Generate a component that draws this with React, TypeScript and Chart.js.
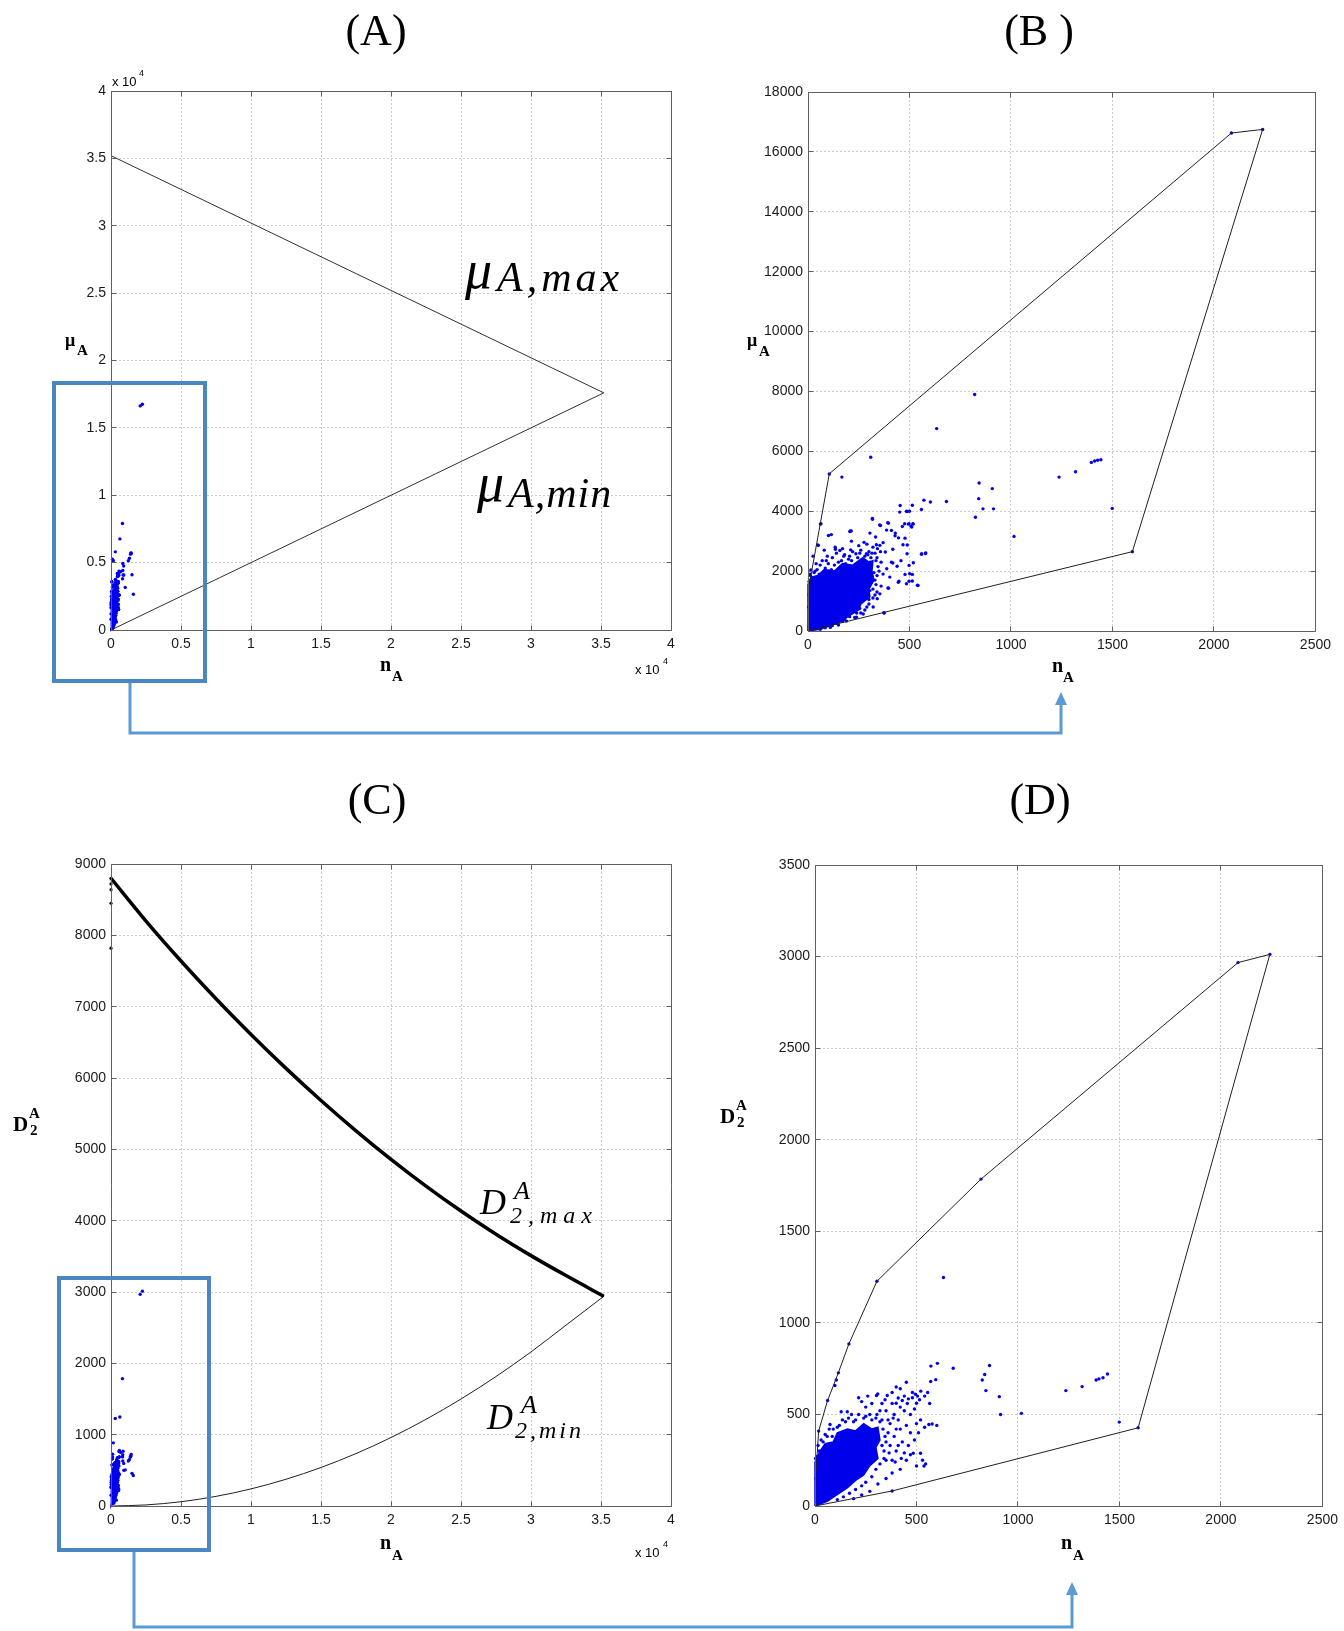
import React, { useEffect, useRef } from 'react';
import { Chart, registerables } from 'chart.js';

Chart.register(...registerables);

type Pt = [number, number];

// ---------- Panel A: bound lines (n_A, mu_A) ----------
const muMaxN = [0, 35200];
const muMaxV = [35200, 17600];
const muMinN = [0, 35200];
const muMinV = [0, 17600];

// ---------- Panel C: bound curves (n_A, D2^A) ----------
const d2CurveN = [0, 2500, 5000, 7500, 10000, 12500, 15000, 17500, 20000, 22500, 25000, 27500, 30000, 32500, 35200];
const d2MaxV = [8800, 8200, 7640, 7110, 6610, 6135, 5685, 5260, 4860, 4485, 4135, 3810, 3510, 3230, 2940];
const d2MinV = [0, 15, 60, 135, 240, 375, 540, 735, 960, 1215, 1500, 1815, 2160, 2535, 2940];
const d2AxisDotsN = [0, 0, 0, 0, 0];
const d2AxisDotsV = [8800, 8720, 8640, 8450, 7820];

// ---------- convex hulls ----------
const muHull: Pt[] = [[0, 0], [10, 1690], [105, 5250], [2086, 16630], [2240, 16750], [1598, 2650], [0, 0]];
const d2Hull: Pt[] = [[0, 0], [4, 170], [18, 409], [62, 576], [115, 727], [167, 885], [305, 1227], [818, 1785], [2084, 2967], [2241, 3012], [1592, 427], [380, 82], [0, 0]];

// ---------- dense cores of the point clouds ----------
const muCore: Pt[] = [[0, 0], [0, 1550], [15, 1800], [50, 1850], [80, 2050], [130, 2000], [170, 2250], [220, 2200], [270, 2450], [300, 2300], [320, 2350], [315, 2000], [325, 1700], [300, 1400], [305, 1150], [260, 900], [250, 700], [200, 500], [170, 330], [110, 180], [60, 60], [0, 0]];
const d2Core: Pt[] = [[0, 0], [0, 240], [25, 300], [50, 340], [90, 350], [110, 400], [160, 420], [200, 410], [240, 450], [280, 420], [310, 430], [320, 360], [300, 320], [310, 260], [270, 220], [240, 170], [200, 140], [160, 100], [120, 70], [60, 25], [0, 0]];

// ---------- individual points (n_A, mu_A) ----------
const muPoints: Pt[] = [
  [821, 7900], [634, 6760], [309, 5800], [167, 5140], [105, 5245], [1237, 5140], [1318, 5320], [1396, 5630], [1412, 5675], [1427, 5700], [1443, 5720],
  [843, 4940], [908, 4755], [841, 4420], [862, 4080], [914, 4080], [825, 3800], [1499, 4095], [1015, 3160], [1598, 2650], [2086, 16630], [2240, 16750],
  [682, 4325], [603, 4310], [571, 4370], [514, 4200], [454, 4190], [500, 4000], [488, 3990], [559, 4060], [317, 3760], [393, 3620], [61, 3570],
  [101, 3190], [115, 3220], [48, 2870], [579, 2590], [559, 2560], [539, 1530], [498, 1660], [514, 1890], [373, 610], [208, 3340], [305, 3270],
  [353, 3540], [387, 3370], [430, 3270], [446, 3110], [494, 3570], [508, 3500], [518, 3570], [458, 2350], [418, 2270], [397, 1430], [448, 1660],
  [478, 1890], [498, 2190], [357, 2650], [418, 2730], [337, 2880], [276, 2960], [236, 2580], [176, 2500], [135, 2730], [75, 1960], [14, 2040],
  [51, 2860], [64, 3580], [206, 3320], [214, 3000], [134, 2800], [157, 2690], [318, 3730], [357, 3525], [396, 3600], [411, 3360], [429, 3180],
  [452, 3970], [465, 3490], [476, 3580], [485, 4000], [498, 3580], [511, 3470], [517, 3580], [478, 3100], [468, 2880], [489, 2870], [488, 2580],
  [519, 2280], [501, 1910], [485, 1580], [514, 1670], [542, 1520], [560, 2580], [580, 2610], [439, 2160], [411, 2300], [388, 2080], [403, 1800],
  [394, 1440], [445, 1630], [381, 2640], [370, 2950], [354, 2860], [333, 3140], [342, 2750], [288, 2580], [247, 2250], [210, 2710], [213, 3340],
  [376, 600], [354, 1240], [341, 1080], [321, 800], [305, 1350], [272, 570], [239, 460], [20, 1700], [35, 2000], [60, 2200], [90, 2350],
  [120, 2450], [150, 2300], [180, 2550], [200, 2400], [260, 2700], [280, 2500], [300, 2650], [320, 2800], [340, 2450], [360, 2300], [350, 2000],
  [330, 1700], [370, 1900], [360, 1500], [340, 1300], [320, 1100], [300, 900], [280, 700], [260, 600], [230, 450], [190, 330], [150, 200],
  [110, 120], [250, 2050], [270, 2200], [230, 1900], [310, 2450], [330, 2600], [290, 2900], [250, 2850], [220, 2650], [170, 2750], [140, 2600],
  [95, 2500], [70, 2350], [40, 2250], [25, 2500], [80, 2700], [10, 1900], [5, 1200], [3, 800],
  [5, 1650], [12, 1850], [30, 1950], [45, 2050], [55, 1900], [85, 2100], [100, 2250], [115, 2050], [130, 2200], [165, 2350], [185, 2250],
  [205, 2500], [215, 2350], [245, 2450], [255, 2600], [265, 2350], [295, 2550], [305, 2300], [315, 2600], [335, 2350], [345, 2150], [325, 1950],
  [340, 1850], [335, 1550], [320, 1400], [330, 1200], [300, 1050], [290, 800], [255, 750], [240, 600], [205, 480], [180, 380], [140, 260],
  [120, 180], [85, 110], [60, 60], [200, 550], [170, 320],
];

// ---------- individual points (n_A, D2^A) ----------
const d2Points: Pt[] = [
  [633, 1248], [818, 1785], [305, 1227], [167, 885], [115, 727], [105, 688], [98, 658], [62, 576], [18, 409], [681, 752], [860, 767], [836, 718],
  [824, 688], [842, 630], [908, 597], [914, 500], [1017, 506], [1236, 630], [1316, 652], [1385, 688], [1399, 694], [1419, 700], [1441, 721],
  [1499, 458], [1592, 427], [2084, 2967], [2241, 3012], [603, 779], [571, 764], [450, 676], [521, 627], [500, 561], [480, 591], [460, 585],
  [430, 576], [400, 561], [356, 603], [303, 603], [309, 612], [215, 591], [159, 515], [577, 448], [561, 445], [537, 218], [500, 218], [484, 288],
  [520, 288], [74, 445], [129, 515], [380, 82], [330, 470], [350, 520], [370, 450], [390, 500], [410, 470], [420, 540], [440, 520], [455, 560],
  [470, 500], [490, 530], [505, 600], [515, 580], [480, 620], [495, 610], [440, 600], [410, 590], [380, 560], [360, 400], [390, 380], [420, 420],
  [450, 440], [470, 400], [500, 450], [520, 470], [540, 430], [340, 300], [370, 330], [400, 300], [430, 350], [460, 330], [490, 360], [510, 400],
  [530, 250], [450, 250], [420, 200], [380, 180], [350, 150], [310, 120], [270, 80], [230, 60], [190, 40], [300, 480], [270, 500], [240, 480],
  [200, 470], [180, 500], [150, 460], [120, 440], [90, 420], [60, 380], [40, 350], [20, 300], [10, 270], [5, 150], [250, 540], [280, 560],
  [230, 570], [330, 560], [345, 580], [320, 520], [260, 600], [380, 620], [420, 640], [400, 650], [540, 600], [555, 620], [570, 680], [595, 690],
  [565, 560], [600, 440], [545, 230], [470, 280], [440, 290], [350, 250], [395, 240],
  [3, 260], [15, 330], [30, 360], [50, 390], [70, 420], [85, 380], [110, 430], [135, 470], [165, 480], [190, 460], [215, 500], [250, 490],
  [280, 470], [305, 500], [320, 460], [335, 420], [345, 380], [330, 330], [340, 260], [320, 230], [300, 200], [280, 160], [250, 130], [230, 110],
  [200, 90], [170, 70], [140, 50], [110, 35], [350, 350], [365, 290], [380, 250], [410, 330], [425, 260], [400, 420], [385, 480], [360, 470],
];

// ---------- tick steps / ranges ----------
const bigNMax = 40000;
const bigNStep = 5000;
const bigMuMax = 40000;
const bigMuStep = 5000;
const zoomNMax = 2500;
const zoomNStep = 500;
const zoomMuMax = 18000;
const zoomMuStep = 2000;
const bigD2Max = 9000;
const bigD2Step = 1000;
const zoomD2Max = 3500;
const zoomD2Step = 500;

const SERIF = '"Liberation Serif", "Times New Roman", "DejaVu Serif", serif';
const SANS = '"Liberation Sans", Arial, Helvetica, sans-serif';
const BLUE = 'rgb(0,0,235)';

const toXY = (a: Pt[]) => a.map(([x, y]) => ({ x, y }));
const zip = (xs: number[], ys: number[]) => xs.map((x, i) => ({ x, y: ys[i] }));
const fmt1e4 = (v: number) => String(v / 10000);
const fmtPlain = (v: number) => String(v);

const pointsDs = (pts: Pt[], color = BLUE, r = 1.7) => ({
  type: 'scatter',
  data: toXY(pts),
  showLine: false,
  pointRadius: r,
  pointHoverRadius: r,
  pointBackgroundColor: color,
  pointBorderColor: color,
  pointBorderWidth: 0,
  clip: false,
  order: 2,
});

const coreDs = (pts: Pt[]) => ({
  type: 'line',
  data: toXY(pts),
  showLine: true,
  fill: 'shape',
  backgroundColor: BLUE,
  borderColor: BLUE,
  borderWidth: 1.5,
  pointRadius: 0,
  tension: 0,
  clip: false,
  order: 3,
});

const lineDs = (data: { x: number; y: number }[], width: number, color: string, smooth = false) => ({
  type: 'line',
  data,
  borderColor: color,
  borderWidth: width,
  pointRadius: 0,
  fill: false,
  tension: 0,
  cubicInterpolationMode: smooth ? 'monotone' : 'default',
  clip: false,
  order: 1,
});

const al = (p: number) => Math.round(p - 0.5) + 0.5;

const boxPlugin = {
  id: 'matlabBox',
  afterDatasetsDraw(chart: any) {
    const { ctx, chartArea: a } = chart;
    const xs = chart.scales.x;
    const ys = chart.scales.y;
    const l = al(a.left), r = al(a.right), t = al(a.top), b = al(a.bottom);
    ctx.save();
    ctx.strokeStyle = '#606060';
    ctx.lineWidth = 1;
    ctx.beginPath();
    ctx.rect(l, t, r - l, b - t);
    const tl = 5;
    xs.ticks.forEach((tk: any) => {
      const px = al(xs.getPixelForValue(tk.value));
      ctx.moveTo(px, b); ctx.lineTo(px, b - tl);
      ctx.moveTo(px, t); ctx.lineTo(px, t + tl);
    });
    ys.ticks.forEach((tk: any) => {
      const py = al(ys.getPixelForValue(tk.value));
      ctx.moveTo(l, py); ctx.lineTo(l + tl, py);
      ctx.moveTo(r, py); ctx.lineTo(r - tl, py);
    });
    ctx.stroke();
    ctx.restore();
  },
};

function axis(max: number, step: number, fmt: (v: number) => string, isX: boolean, size: number) {
  return {
    type: 'linear',
    position: isX ? 'bottom' : 'left',
    min: 0,
    max,
    ticks: {
      stepSize: step,
      autoSkip: false,
      maxRotation: 0,
      minRotation: 0,
      padding: isX ? 6 : 5,
      color: '#1a1a1a',
      font: { family: SANS, size: 14 },
      callback: (v: any) => fmt(Number(v)),
    },
    grid: { color: '#cdcdcd', lineWidth: 1, drawTicks: false },
    border: { display: false, dash: [2, 2] },
    afterFit: (s: any) => {
      if (isX) s.height = size; else s.width = size;
    },
  };
}

type Pad = { L: number; T: number; R: number; B: number };

function makeConfig(datasets: any[], xMax: number, xStep: number, yMax: number, yStep: number,
  fx: (v: number) => string, fy: (v: number) => string, pad: Pad) {
  return {
    type: 'scatter',
    data: { datasets },
    options: {
      animation: false,
      responsive: false,
      maintainAspectRatio: false,
      events: [],
      layout: { padding: { left: 0, top: pad.T, right: pad.R, bottom: 0 } },
      plugins: { legend: { display: false }, tooltip: { enabled: false }, title: { display: false } },
      scales: {
        x: axis(xMax, xStep, fx, true, pad.B),
        y: axis(yMax, yStep, fy, false, pad.L),
      },
    },
    plugins: [boxPlugin],
  };
}

function Panel({ left, top, width, height, build }: { left: number; top: number; width: number; height: number; build: () => any }) {
  const ref = useRef<HTMLCanvasElement | null>(null);
  useEffect(() => {
    if (!ref.current) return;
    const chart = new Chart(ref.current, build());
    return () => chart.destroy();
  }, []);
  return (
    <canvas
      ref={ref}
      width={width}
      height={height}
      style={{ position: 'absolute', left, top, width, height }}
    />
  );
}

function T({ x, b, size, children, bold = false, italic = false, font = SERIF, center = false, ls = 0 }:
  { x: number; b: number; size: number; children: any; bold?: boolean; italic?: boolean; font?: string; center?: boolean; ls?: number }) {
  return (
    <div
      style={{
        position: 'absolute',
        left: x,
        top: b - 0.84 * size,
        fontSize: size,
        lineHeight: `${size}px`,
        fontFamily: font,
        fontWeight: bold ? 700 : 400,
        fontStyle: italic ? 'italic' : 'normal',
        whiteSpace: 'nowrap',
        letterSpacing: ls,
        transform: center ? 'translateX(-50%)' : undefined,
        color: '#000',
        zIndex: 3,
      }}
    >
      {children}
    </div>
  );
}

const padA: Pad = { L: 60, T: 20, R: 20, B: 30 };
const padD: Pad = { L: 60, T: 20, R: 17, B: 30 };

const buildA = () => makeConfig([
  lineDs(zip(muMaxN, muMaxV), 1, '#303030'),
  lineDs(zip(muMinN, muMinV), 1, '#303030'),
  pointsDs(muPoints),
  coreDs(muCore),
], bigNMax, bigNStep, bigMuMax, bigMuStep, fmt1e4, fmt1e4, padA);

const buildB = () => makeConfig([
  lineDs(toXY(muHull), 1, '#202020'),
  pointsDs(muPoints),
  coreDs(muCore),
], zoomNMax, zoomNStep, zoomMuMax, zoomMuStep, fmtPlain, fmtPlain, padA);

const buildC = () => makeConfig([
  lineDs(zip(d2CurveN, d2MaxV), 3.5, '#000000', true),
  lineDs(zip(d2CurveN, d2MinV), 1, '#202020', true),
  pointsDs(zip(d2AxisDotsN, d2AxisDotsV).map((p) => [p.x, p.y] as Pt), '#000000', 1.6),
  pointsDs(d2Points),
  coreDs(d2Core),
], bigNMax, bigNStep, bigD2Max, bigD2Step, fmt1e4, fmtPlain, padA);

const buildD = () => makeConfig([
  lineDs(toXY(d2Hull), 1, '#202020'),
  pointsDs(d2Points),
  coreDs(d2Core),
], zoomNMax, zoomNStep, zoomD2Max, zoomD2Step, fmtPlain, fmtPlain, padD);

export default function App() {
  const boxColor = '#4a86c0';
  const arrowColor = '#5b9bd5';
  return (
    <div style={{ position: 'absolute', left: 0, top: 0, width: 1344, height: 1631, overflow: 'hidden', background: '#ffffff' }}>
      <Panel left={51} top={71} width={640} height={589} build={buildA} />
      <Panel left={748} top={72} width={589} height={589} build={buildB} />
      <Panel left={51} top={844} width={640} height={692} build={buildC} />
      <Panel left={755} top={845} width={589} height={691} build={buildD} />

      <svg width={1344} height={1631} style={{ position: 'absolute', left: 0, top: 0, zIndex: 2 }}>
        <rect x={54} y={383} width={151} height={298} fill="none" stroke={boxColor} strokeWidth={4} />
        <polyline points="130,683 130,733 1061,733 1061,704" fill="none" stroke={arrowColor} strokeWidth={3} />
        <polygon points="1061,692 1055,705 1067,705" fill={arrowColor} />
        <rect x={59} y={1278} width={150} height={272} fill="none" stroke={boxColor} strokeWidth={4} />
        <polyline points="134,1552 134,1627 1072,1627 1072,1594" fill="none" stroke={arrowColor} strokeWidth={3} />
        <polygon points="1072,1582 1066,1595 1078,1595" fill={arrowColor} />
      </svg>

      {/* panel titles */}
      <T x={376} b={46} size={44} center>(A)</T>
      <T x={1039} b={46} size={44} center>(B )</T>
      <T x={377} b={815} size={44} center>(C)</T>
      <T x={1040} b={815} size={44} center>(D)</T>

      {/* axis labels panel A */}
      <T x={65} b={346} size={18} bold>μ</T>
      <T x={77} b={356} size={15} bold>A</T>
      <T x={380} b={671} size={20} bold>n</T>
      <T x={392} b={682} size={15} bold>A</T>
      <T x={112} b={86} size={13} font={SANS}>x 10</T>
      <T x={139} b={77} size={9} font={SANS}>4</T>
      <T x={635} b={674} size={13} font={SANS}>x 10</T>
      <T x={663} b={665} size={9} font={SANS}>4</T>

      {/* axis labels panel B */}
      <T x={747} b={346} size={18} bold>μ</T>
      <T x={759} b={357} size={15} bold>A</T>
      <T x={1052} b={672} size={20} bold>n</T>
      <T x={1063} b={683} size={15} bold>A</T>

      {/* axis labels panel C */}
      <T x={13} b={1132} size={21} bold>D</T>
      <T x={29} b={1119} size={15} bold>A</T>
      <T x={30} b={1136} size={15} bold>2</T>
      <T x={380} b={1549} size={20} bold>n</T>
      <T x={392} b={1561} size={15} bold>A</T>
      <T x={635} b={1557} size={13} font={SANS}>x 10</T>
      <T x={663} b={1548} size={9} font={SANS}>4</T>

      {/* axis labels panel D */}
      <T x={720} b={1124} size={21} bold>D</T>
      <T x={736} b={1111} size={15} bold>A</T>
      <T x={737} b={1128} size={15} bold>2</T>
      <T x={1061} b={1549} size={20} bold>n</T>
      <T x={1073} b={1561} size={15} bold>A</T>

      {/* math annotations */}
      <T x={465} b={288} size={54} italic>μ</T>
      <T x={497} b={291} size={42} italic ls={4}>A,max</T>
      <T x={477} b={501} size={54} italic>μ</T>
      <T x={508} b={507} size={42} italic ls={1}>A,min</T>

      <T x={480} b={1214} size={36} italic>D</T>
      <T x={514} b={1200} size={26} italic>A</T>
      <T x={510} b={1223} size={24} italic ls={6}>2,max</T>
      <T x={487} b={1429} size={36} italic>D</T>
      <T x={521} b={1414} size={26} italic>A</T>
      <T x={515} b={1438} size={24} italic ls={3}>2,min</T>
    </div>
  );
}
